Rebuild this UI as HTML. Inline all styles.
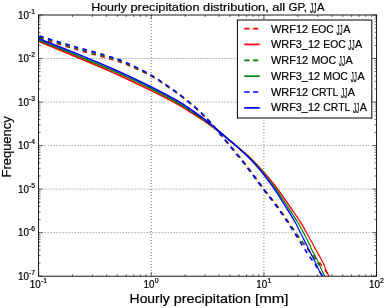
<!DOCTYPE html>
<html><head><meta charset="utf-8"><title>Hourly precipitation distribution</title>
<style>
html,body{margin:0;padding:0;background:#fff;}
body{width:387px;height:308px;overflow:hidden;position:relative;}
.t{font-family:"Liberation Sans",sans-serif;fill:#000;stroke:#000;stroke-width:0.2px;}
</style></head><body>
<svg width="387" height="308" viewBox="0 0 387 308" style="position:absolute;left:0;top:0;will-change:transform;opacity:0.999;filter:blur(0.3px)">
<rect x="0" y="0" width="387" height="308" fill="#fff"/>
<g stroke="#444" stroke-width="0.7" stroke-dasharray="1 2"><line x1="38.60" y1="58.53" x2="376.60" y2="58.53"/><line x1="38.60" y1="102.07" x2="376.60" y2="102.07"/><line x1="38.60" y1="145.60" x2="376.60" y2="145.60"/><line x1="38.60" y1="189.13" x2="376.60" y2="189.13"/><line x1="38.60" y1="232.67" x2="376.60" y2="232.67"/><line x1="151.27" y1="15.00" x2="151.27" y2="276.20"/><line x1="263.93" y1="15.00" x2="263.93" y2="276.20"/></g>
<clipPath id="c"><rect x="38.6" y="15.0" width="338.0" height="261.2"/></clipPath>
<g clip-path="url(#c)" stroke-linejoin="round">
<path d="M39.00 38.10 C45.00 39.92 62.83 45.42 75.00 49.00 C87.17 52.58 102.83 56.72 112.00 59.55 C121.17 62.38 123.40 63.17 130.00 65.97 C136.60 68.78 145.27 72.91 151.60 76.39 C157.93 79.87 162.93 83.47 168.00 86.87 C173.07 90.27 177.35 93.23 182.00 96.80 C186.65 100.37 191.43 104.28 195.90 108.28 C200.37 112.27 204.78 116.50 208.80 120.76 C212.82 125.03 215.96 129.18 220.00 133.86 C224.04 138.54 228.94 144.03 233.02 148.85 C237.09 153.67 240.76 158.11 244.45 162.80 C248.14 167.49 251.60 172.22 255.18 177.00 C258.76 181.78 262.20 186.63 265.91 191.50 C269.63 196.37 273.82 201.31 277.45 206.20 C281.07 211.09 284.24 215.88 287.68 220.85 C291.12 225.82 294.46 230.86 298.10 236.00 C301.74 241.14 305.59 246.78 309.53 251.70 C313.47 256.62 318.50 261.53 321.74 265.50 C324.99 269.47 327.79 273.83 329.00 275.50" fill="none" stroke="#ff0000" stroke-width="1.6" stroke-dasharray="4.55 4.5" stroke-dashoffset="-0.4"/>
<path transform="scale(0.600 1)" d="M65.00 41.45 C75.00 43.92 103.89 50.99 125.00 56.30 C146.11 61.61 170.83 67.68 191.67 73.30 C212.50 78.92 233.61 85.18 250.00 90.00 C266.39 94.82 280.28 99.10 290.00 102.22 C299.72 105.35 299.72 105.55 308.33 108.75 C316.94 111.95 330.00 116.47 341.67 121.40 C353.33 126.32 365.17 131.87 378.33 138.30 C391.50 144.73 407.47 152.22 420.67 160.00 C433.86 167.78 446.43 176.67 457.50 185.00 C468.57 193.33 479.72 203.67 487.08 210.00 C494.44 216.33 497.35 218.83 501.67 223.00 C505.99 227.17 509.58 231.33 513.00 235.00 C516.42 238.67 519.92 242.50 522.17 245.00 C524.42 247.50 524.64 248.00 526.50 250.00 C528.36 252.00 531.20 254.68 533.33 257.00 C535.47 259.32 537.85 262.03 539.33 263.90 C540.80 265.77 541.27 266.78 542.20 268.20 C543.13 269.62 543.91 271.07 544.93 272.40 C545.96 273.73 547.77 275.57 548.33 276.20" fill="none" stroke="#ff0000" stroke-width="1.75"/>
<path d="M39.00 37.10 C45.00 38.90 62.83 44.35 75.00 47.90 C87.17 51.45 102.83 55.53 112.00 58.40 C121.17 61.27 123.40 62.21 130.00 65.12 C136.60 68.04 145.27 72.33 151.60 75.89 C157.93 79.46 162.93 83.08 168.00 86.54 C173.07 89.99 177.35 93.00 182.00 96.60 C186.65 100.20 191.43 104.12 195.90 108.14 C200.37 112.15 204.78 116.40 208.80 120.68 C212.82 124.96 216.05 129.14 220.00 133.83 C223.95 138.53 228.53 144.02 232.53 148.85 C236.53 153.68 240.28 158.11 243.98 162.80 C247.67 167.49 251.14 172.22 254.72 177.00 C258.31 181.78 261.76 186.63 265.47 191.50 C269.19 196.37 273.39 201.31 277.02 206.20 C280.65 211.09 283.78 215.88 287.27 220.85 C290.76 225.82 294.18 230.86 297.98 236.00 C301.77 241.14 306.47 246.78 310.04 251.70 C313.61 256.62 317.85 263.20 319.41 265.50" fill="none" stroke="#008000" stroke-width="1.6" stroke-dasharray="4.55 4.5" stroke-dashoffset="-0.4"/>
<path transform="scale(0.600 1)" d="M65.00 40.25 C75.00 42.66 103.89 49.49 125.00 54.70 C146.11 59.91 170.83 65.93 191.67 71.50 C212.50 77.07 233.61 83.24 250.00 88.10 C266.39 92.96 280.28 97.43 290.00 100.63 C299.72 103.83 299.72 103.99 308.33 107.30 C316.94 110.61 330.00 115.35 341.67 120.50 C353.33 125.65 365.33 131.62 378.33 138.20 C391.33 144.78 406.92 152.20 419.67 160.00 C432.42 167.80 444.29 176.67 454.83 185.00 C465.38 193.33 475.90 203.67 482.92 210.00 C489.94 216.33 492.80 218.83 496.95 223.00 C501.11 227.17 504.62 231.33 507.83 235.00 C511.04 238.67 514.22 242.50 516.22 245.00 C518.22 247.50 518.17 248.00 519.83 250.00 C521.50 252.00 524.22 254.68 526.21 257.00 C528.19 259.32 530.31 262.03 531.75 263.90 C533.18 265.77 533.80 266.78 534.82 268.20 C535.84 269.62 536.75 271.07 537.89 272.40 C539.03 273.73 541.04 275.57 541.67 276.20" fill="none" stroke="#008000" stroke-width="1.75"/>
<path d="M39.00 35.90 C45.00 37.70 62.83 43.13 75.00 46.70 C87.17 50.27 102.83 54.37 112.00 57.30 C121.17 60.23 123.40 61.28 130.00 64.30 C136.60 67.32 145.27 71.75 151.60 75.40 C157.93 79.05 162.93 82.70 168.00 86.20 C173.07 89.70 177.35 92.77 182.00 96.40 C186.65 100.03 191.43 103.97 195.90 108.00 C200.37 112.03 204.78 116.30 208.80 120.60 C212.82 124.90 216.10 129.09 220.00 133.80 C223.90 138.51 228.27 144.02 232.20 148.85 C236.13 153.68 239.92 158.11 243.60 162.80 C247.28 167.49 250.73 172.22 254.30 177.00 C257.87 181.78 261.30 186.63 265.00 191.50 C268.70 196.37 272.88 201.31 276.50 206.20 C280.12 211.09 283.37 215.88 286.70 220.85 C290.03 225.82 293.23 230.86 296.50 236.00 C299.77 241.14 303.07 246.78 306.30 251.70 C309.53 256.62 313.23 261.53 315.85 265.50 C318.47 269.47 320.98 273.83 322.00 275.50" fill="none" stroke="#0000ff" stroke-width="1.6" stroke-dasharray="4.55 4.5" stroke-dashoffset="-0.4"/>
<path transform="scale(0.600 1)" d="M65.00 38.90 C75.00 41.25 103.89 47.85 125.00 53.00 C146.11 58.15 170.83 64.25 191.67 69.80 C212.50 75.35 233.61 81.45 250.00 86.30 C266.39 91.15 280.28 95.68 290.00 98.90 C299.72 102.12 299.72 102.15 308.33 105.60 C316.94 109.05 330.00 114.20 341.67 119.60 C353.33 125.00 365.50 131.27 378.33 138.00 C391.17 144.73 406.28 152.17 418.67 160.00 C431.06 167.83 442.51 176.67 452.67 185.00 C462.82 193.33 472.92 203.67 479.58 210.00 C486.25 216.33 488.82 218.83 492.67 223.00 C496.51 227.17 499.58 231.33 502.67 235.00 C505.75 238.67 509.14 242.50 511.17 245.00 C513.19 247.50 513.17 248.00 514.83 250.00 C516.50 252.00 519.19 254.68 521.17 257.00 C523.14 259.32 525.19 262.03 526.67 263.90 C528.14 265.77 528.89 266.78 530.00 268.20 C531.11 269.62 532.11 271.07 533.33 272.40 C534.56 273.73 536.67 275.57 537.33 276.20" fill="none" stroke="#0000ff" stroke-width="1.75"/>
</g>
<g stroke="#000" stroke-width="0.6"><line x1="38.60" y1="15.00" x2="42.60" y2="15.00"/><line x1="376.60" y1="15.00" x2="372.60" y2="15.00"/><line x1="38.60" y1="45.43" x2="40.60" y2="45.43"/><line x1="376.60" y1="45.43" x2="374.60" y2="45.43"/><line x1="38.60" y1="37.76" x2="40.60" y2="37.76"/><line x1="376.60" y1="37.76" x2="374.60" y2="37.76"/><line x1="38.60" y1="32.32" x2="40.60" y2="32.32"/><line x1="376.60" y1="32.32" x2="374.60" y2="32.32"/><line x1="38.60" y1="28.10" x2="40.60" y2="28.10"/><line x1="376.60" y1="28.10" x2="374.60" y2="28.10"/><line x1="38.60" y1="24.66" x2="40.60" y2="24.66"/><line x1="376.60" y1="24.66" x2="374.60" y2="24.66"/><line x1="38.60" y1="21.74" x2="40.60" y2="21.74"/><line x1="376.60" y1="21.74" x2="374.60" y2="21.74"/><line x1="38.60" y1="19.22" x2="40.60" y2="19.22"/><line x1="376.60" y1="19.22" x2="374.60" y2="19.22"/><line x1="38.60" y1="16.99" x2="40.60" y2="16.99"/><line x1="376.60" y1="16.99" x2="374.60" y2="16.99"/><line x1="38.60" y1="58.53" x2="42.60" y2="58.53"/><line x1="376.60" y1="58.53" x2="372.60" y2="58.53"/><line x1="38.60" y1="88.96" x2="40.60" y2="88.96"/><line x1="376.60" y1="88.96" x2="374.60" y2="88.96"/><line x1="38.60" y1="81.30" x2="40.60" y2="81.30"/><line x1="376.60" y1="81.30" x2="374.60" y2="81.30"/><line x1="38.60" y1="75.86" x2="40.60" y2="75.86"/><line x1="376.60" y1="75.86" x2="374.60" y2="75.86"/><line x1="38.60" y1="71.64" x2="40.60" y2="71.64"/><line x1="376.60" y1="71.64" x2="374.60" y2="71.64"/><line x1="38.60" y1="68.19" x2="40.60" y2="68.19"/><line x1="376.60" y1="68.19" x2="374.60" y2="68.19"/><line x1="38.60" y1="65.28" x2="40.60" y2="65.28"/><line x1="376.60" y1="65.28" x2="374.60" y2="65.28"/><line x1="38.60" y1="62.75" x2="40.60" y2="62.75"/><line x1="376.60" y1="62.75" x2="374.60" y2="62.75"/><line x1="38.60" y1="60.53" x2="40.60" y2="60.53"/><line x1="376.60" y1="60.53" x2="374.60" y2="60.53"/><line x1="38.60" y1="102.07" x2="42.60" y2="102.07"/><line x1="376.60" y1="102.07" x2="372.60" y2="102.07"/><line x1="38.60" y1="132.50" x2="40.60" y2="132.50"/><line x1="376.60" y1="132.50" x2="374.60" y2="132.50"/><line x1="38.60" y1="124.83" x2="40.60" y2="124.83"/><line x1="376.60" y1="124.83" x2="374.60" y2="124.83"/><line x1="38.60" y1="119.39" x2="40.60" y2="119.39"/><line x1="376.60" y1="119.39" x2="374.60" y2="119.39"/><line x1="38.60" y1="115.17" x2="40.60" y2="115.17"/><line x1="376.60" y1="115.17" x2="374.60" y2="115.17"/><line x1="38.60" y1="111.72" x2="40.60" y2="111.72"/><line x1="376.60" y1="111.72" x2="374.60" y2="111.72"/><line x1="38.60" y1="108.81" x2="40.60" y2="108.81"/><line x1="376.60" y1="108.81" x2="374.60" y2="108.81"/><line x1="38.60" y1="106.29" x2="40.60" y2="106.29"/><line x1="376.60" y1="106.29" x2="374.60" y2="106.29"/><line x1="38.60" y1="104.06" x2="40.60" y2="104.06"/><line x1="376.60" y1="104.06" x2="374.60" y2="104.06"/><line x1="38.60" y1="145.60" x2="42.60" y2="145.60"/><line x1="376.60" y1="145.60" x2="372.60" y2="145.60"/><line x1="38.60" y1="176.03" x2="40.60" y2="176.03"/><line x1="376.60" y1="176.03" x2="374.60" y2="176.03"/><line x1="38.60" y1="168.36" x2="40.60" y2="168.36"/><line x1="376.60" y1="168.36" x2="374.60" y2="168.36"/><line x1="38.60" y1="162.92" x2="40.60" y2="162.92"/><line x1="376.60" y1="162.92" x2="374.60" y2="162.92"/><line x1="38.60" y1="158.70" x2="40.60" y2="158.70"/><line x1="376.60" y1="158.70" x2="374.60" y2="158.70"/><line x1="38.60" y1="155.26" x2="40.60" y2="155.26"/><line x1="376.60" y1="155.26" x2="374.60" y2="155.26"/><line x1="38.60" y1="152.34" x2="40.60" y2="152.34"/><line x1="376.60" y1="152.34" x2="374.60" y2="152.34"/><line x1="38.60" y1="149.82" x2="40.60" y2="149.82"/><line x1="376.60" y1="149.82" x2="374.60" y2="149.82"/><line x1="38.60" y1="147.59" x2="40.60" y2="147.59"/><line x1="376.60" y1="147.59" x2="374.60" y2="147.59"/><line x1="38.60" y1="189.13" x2="42.60" y2="189.13"/><line x1="376.60" y1="189.13" x2="372.60" y2="189.13"/><line x1="38.60" y1="219.56" x2="40.60" y2="219.56"/><line x1="376.60" y1="219.56" x2="374.60" y2="219.56"/><line x1="38.60" y1="211.90" x2="40.60" y2="211.90"/><line x1="376.60" y1="211.90" x2="374.60" y2="211.90"/><line x1="38.60" y1="206.46" x2="40.60" y2="206.46"/><line x1="376.60" y1="206.46" x2="374.60" y2="206.46"/><line x1="38.60" y1="202.24" x2="40.60" y2="202.24"/><line x1="376.60" y1="202.24" x2="374.60" y2="202.24"/><line x1="38.60" y1="198.79" x2="40.60" y2="198.79"/><line x1="376.60" y1="198.79" x2="374.60" y2="198.79"/><line x1="38.60" y1="195.88" x2="40.60" y2="195.88"/><line x1="376.60" y1="195.88" x2="374.60" y2="195.88"/><line x1="38.60" y1="193.35" x2="40.60" y2="193.35"/><line x1="376.60" y1="193.35" x2="374.60" y2="193.35"/><line x1="38.60" y1="191.13" x2="40.60" y2="191.13"/><line x1="376.60" y1="191.13" x2="374.60" y2="191.13"/><line x1="38.60" y1="232.67" x2="42.60" y2="232.67"/><line x1="376.60" y1="232.67" x2="372.60" y2="232.67"/><line x1="38.60" y1="263.10" x2="40.60" y2="263.10"/><line x1="376.60" y1="263.10" x2="374.60" y2="263.10"/><line x1="38.60" y1="255.43" x2="40.60" y2="255.43"/><line x1="376.60" y1="255.43" x2="374.60" y2="255.43"/><line x1="38.60" y1="249.99" x2="40.60" y2="249.99"/><line x1="376.60" y1="249.99" x2="374.60" y2="249.99"/><line x1="38.60" y1="245.77" x2="40.60" y2="245.77"/><line x1="376.60" y1="245.77" x2="374.60" y2="245.77"/><line x1="38.60" y1="242.32" x2="40.60" y2="242.32"/><line x1="376.60" y1="242.32" x2="374.60" y2="242.32"/><line x1="38.60" y1="239.41" x2="40.60" y2="239.41"/><line x1="376.60" y1="239.41" x2="374.60" y2="239.41"/><line x1="38.60" y1="236.89" x2="40.60" y2="236.89"/><line x1="376.60" y1="236.89" x2="374.60" y2="236.89"/><line x1="38.60" y1="234.66" x2="40.60" y2="234.66"/><line x1="376.60" y1="234.66" x2="374.60" y2="234.66"/><line x1="38.60" y1="276.20" x2="42.60" y2="276.20"/><line x1="376.60" y1="276.20" x2="372.60" y2="276.20"/><line x1="38.60" y1="15.00" x2="38.60" y2="19.00"/><line x1="38.60" y1="276.20" x2="38.60" y2="272.20"/><line x1="72.52" y1="15.00" x2="72.52" y2="17.00"/><line x1="72.52" y1="276.20" x2="72.52" y2="274.20"/><line x1="92.36" y1="15.00" x2="92.36" y2="17.00"/><line x1="92.36" y1="276.20" x2="92.36" y2="274.20"/><line x1="106.43" y1="15.00" x2="106.43" y2="17.00"/><line x1="106.43" y1="276.20" x2="106.43" y2="274.20"/><line x1="117.35" y1="15.00" x2="117.35" y2="17.00"/><line x1="117.35" y1="276.20" x2="117.35" y2="274.20"/><line x1="126.27" y1="15.00" x2="126.27" y2="17.00"/><line x1="126.27" y1="276.20" x2="126.27" y2="274.20"/><line x1="133.81" y1="15.00" x2="133.81" y2="17.00"/><line x1="133.81" y1="276.20" x2="133.81" y2="274.20"/><line x1="140.35" y1="15.00" x2="140.35" y2="17.00"/><line x1="140.35" y1="276.20" x2="140.35" y2="274.20"/><line x1="146.11" y1="15.00" x2="146.11" y2="17.00"/><line x1="146.11" y1="276.20" x2="146.11" y2="274.20"/><line x1="151.27" y1="15.00" x2="151.27" y2="19.00"/><line x1="151.27" y1="276.20" x2="151.27" y2="272.20"/><line x1="185.18" y1="15.00" x2="185.18" y2="17.00"/><line x1="185.18" y1="276.20" x2="185.18" y2="274.20"/><line x1="205.02" y1="15.00" x2="205.02" y2="17.00"/><line x1="205.02" y1="276.20" x2="205.02" y2="274.20"/><line x1="219.10" y1="15.00" x2="219.10" y2="17.00"/><line x1="219.10" y1="276.20" x2="219.10" y2="274.20"/><line x1="230.02" y1="15.00" x2="230.02" y2="17.00"/><line x1="230.02" y1="276.20" x2="230.02" y2="274.20"/><line x1="238.94" y1="15.00" x2="238.94" y2="17.00"/><line x1="238.94" y1="276.20" x2="238.94" y2="274.20"/><line x1="246.48" y1="15.00" x2="246.48" y2="17.00"/><line x1="246.48" y1="276.20" x2="246.48" y2="274.20"/><line x1="253.01" y1="15.00" x2="253.01" y2="17.00"/><line x1="253.01" y1="276.20" x2="253.01" y2="274.20"/><line x1="258.78" y1="15.00" x2="258.78" y2="17.00"/><line x1="258.78" y1="276.20" x2="258.78" y2="274.20"/><line x1="263.93" y1="15.00" x2="263.93" y2="19.00"/><line x1="263.93" y1="276.20" x2="263.93" y2="272.20"/><line x1="297.85" y1="15.00" x2="297.85" y2="17.00"/><line x1="297.85" y1="276.20" x2="297.85" y2="274.20"/><line x1="317.69" y1="15.00" x2="317.69" y2="17.00"/><line x1="317.69" y1="276.20" x2="317.69" y2="274.20"/><line x1="331.77" y1="15.00" x2="331.77" y2="17.00"/><line x1="331.77" y1="276.20" x2="331.77" y2="274.20"/><line x1="342.68" y1="15.00" x2="342.68" y2="17.00"/><line x1="342.68" y1="276.20" x2="342.68" y2="274.20"/><line x1="351.61" y1="15.00" x2="351.61" y2="17.00"/><line x1="351.61" y1="276.20" x2="351.61" y2="274.20"/><line x1="359.15" y1="15.00" x2="359.15" y2="17.00"/><line x1="359.15" y1="276.20" x2="359.15" y2="274.20"/><line x1="365.68" y1="15.00" x2="365.68" y2="17.00"/><line x1="365.68" y1="276.20" x2="365.68" y2="274.20"/><line x1="371.44" y1="15.00" x2="371.44" y2="17.00"/><line x1="371.44" y1="276.20" x2="371.44" y2="274.20"/><line x1="376.60" y1="15.00" x2="376.60" y2="19.00"/><line x1="376.60" y1="276.20" x2="376.60" y2="272.20"/></g>
<rect x="38.6" y="15.0" width="338.0" height="261.2" fill="none" stroke="#000" stroke-width="0.9"/>
<rect x="237.4" y="20.0" width="134.4" height="98.0" fill="#fff" stroke="#000" stroke-width="1"/>
<line x1="244.2" y1="28.6" x2="259.7" y2="28.6" stroke="#ff0000" stroke-width="1.7" stroke-dasharray="5.2 3.6"/>
<g transform="translate(271.00 32.60)"><text x="0.00" y="0" font-size="11.13" textLength="37.08" lengthAdjust="spacingAndGlyphs" class="t">WRF12</text><text x="40.42" y="0" font-size="11.13" textLength="22.23" lengthAdjust="spacingAndGlyphs" class="t">EOC</text><text x="65.41" y="2.10" font-size="13.96" textLength="6.19" lengthAdjust="spacingAndGlyphs" class="t">JJ</text><text x="72.18" y="0" font-size="11.13" textLength="7.18" lengthAdjust="spacingAndGlyphs" class="t">A</text></g>
<line x1="244.2" y1="44.4" x2="259.7" y2="44.4" stroke="#ff0000" stroke-width="1.7"/>
<g transform="translate(271.00 48.35)"><text x="0.00" y="0" font-size="11.13" textLength="49.01" lengthAdjust="spacingAndGlyphs" class="t">WRF3_12</text><text x="52.35" y="0" font-size="11.13" textLength="22.23" lengthAdjust="spacingAndGlyphs" class="t">EOC</text><text x="77.34" y="2.10" font-size="13.96" textLength="6.19" lengthAdjust="spacingAndGlyphs" class="t">JJ</text><text x="84.11" y="0" font-size="11.13" textLength="7.18" lengthAdjust="spacingAndGlyphs" class="t">A</text></g>
<line x1="244.2" y1="60.3" x2="259.7" y2="60.3" stroke="#008000" stroke-width="1.7" stroke-dasharray="5.2 3.6"/>
<g transform="translate(271.00 64.10)"><text x="0.00" y="0" font-size="11.13" textLength="37.08" lengthAdjust="spacingAndGlyphs" class="t">WRF12</text><text x="40.42" y="0" font-size="11.13" textLength="24.66" lengthAdjust="spacingAndGlyphs" class="t">MOC</text><text x="67.84" y="2.10" font-size="13.96" textLength="6.19" lengthAdjust="spacingAndGlyphs" class="t">JJ</text><text x="74.60" y="0" font-size="11.13" textLength="7.18" lengthAdjust="spacingAndGlyphs" class="t">A</text></g>
<line x1="244.2" y1="76.2" x2="259.7" y2="76.2" stroke="#008000" stroke-width="1.7"/>
<g transform="translate(271.00 79.85)"><text x="0.00" y="0" font-size="11.13" textLength="49.01" lengthAdjust="spacingAndGlyphs" class="t">WRF3_12</text><text x="52.35" y="0" font-size="11.13" textLength="24.66" lengthAdjust="spacingAndGlyphs" class="t">MOC</text><text x="79.77" y="2.10" font-size="13.96" textLength="6.19" lengthAdjust="spacingAndGlyphs" class="t">JJ</text><text x="86.53" y="0" font-size="11.13" textLength="7.18" lengthAdjust="spacingAndGlyphs" class="t">A</text></g>
<line x1="244.2" y1="92.0" x2="259.7" y2="92.0" stroke="#0000ff" stroke-width="1.7" stroke-dasharray="5.2 3.6"/>
<g transform="translate(271.00 95.60)"><text x="0.00" y="0" font-size="11.13" textLength="37.08" lengthAdjust="spacingAndGlyphs" class="t">WRF12</text><text x="40.42" y="0" font-size="11.13" textLength="26.89" lengthAdjust="spacingAndGlyphs" class="t">CRTL</text><text x="70.07" y="2.10" font-size="13.96" textLength="6.19" lengthAdjust="spacingAndGlyphs" class="t">JJ</text><text x="76.84" y="0" font-size="11.13" textLength="7.18" lengthAdjust="spacingAndGlyphs" class="t">A</text></g>
<line x1="244.2" y1="107.9" x2="259.7" y2="107.9" stroke="#0000ff" stroke-width="1.7"/>
<g transform="translate(271.00 111.35)"><text x="0.00" y="0" font-size="11.13" textLength="49.01" lengthAdjust="spacingAndGlyphs" class="t">WRF3_12</text><text x="52.35" y="0" font-size="11.13" textLength="26.89" lengthAdjust="spacingAndGlyphs" class="t">CRTL</text><text x="82.00" y="2.10" font-size="13.96" textLength="6.19" lengthAdjust="spacingAndGlyphs" class="t">JJ</text><text x="88.77" y="0" font-size="11.13" textLength="7.18" lengthAdjust="spacingAndGlyphs" class="t">A</text></g>
<g transform="translate(91.20 10.80)"><text x="0.00" y="0" font-size="11.37" textLength="35.83" lengthAdjust="spacingAndGlyphs" class="t">Hourly</text><text x="39.31" y="0" font-size="11.37" textLength="69.10" lengthAdjust="spacingAndGlyphs" class="t">precipitation</text><text x="111.88" y="0" font-size="11.37" textLength="65.76" lengthAdjust="spacingAndGlyphs" class="t">distribution,</text><text x="181.11" y="0" font-size="11.37" textLength="12.77" lengthAdjust="spacingAndGlyphs" class="t">all</text><text x="197.36" y="0" font-size="11.37" textLength="18.54" lengthAdjust="spacingAndGlyphs" class="t">GP,</text><text x="218.77" y="2.19" font-size="14.54" textLength="6.45" lengthAdjust="spacingAndGlyphs" class="t">JJ</text><text x="225.82" y="0" font-size="11.37" textLength="7.48" lengthAdjust="spacingAndGlyphs" class="t">A</text></g>
<g transform="translate(129.60 303.00)"><text x="0.00" y="0" font-size="12.74" textLength="40.16" lengthAdjust="spacingAndGlyphs" class="t">Hourly</text><text x="44.05" y="0" font-size="12.74" textLength="77.44" lengthAdjust="spacingAndGlyphs" class="t">precipitation</text><text x="125.39" y="0" font-size="12.74" textLength="33.42" lengthAdjust="spacingAndGlyphs" class="t">[mm]</text></g>
<g transform="translate(11.40 146.90) rotate(-90)"><text x="-30.64" y="0" font-size="12.47" textLength="61.29" lengthAdjust="spacingAndGlyphs" class="t">Frequency</text></g>
<g transform="translate(18.00 18.60)"><text x="0.00" y="0" font-size="10.06" textLength="10.94" lengthAdjust="spacingAndGlyphs" class="t">10</text></g>
<g transform="translate(29.00 13.50)"><text x="0.00" y="0" font-size="6.59" textLength="6.08" lengthAdjust="spacingAndGlyphs" class="t">-1</text></g>
<g transform="translate(18.00 62.13)"><text x="0.00" y="0" font-size="10.06" textLength="10.94" lengthAdjust="spacingAndGlyphs" class="t">10</text></g>
<g transform="translate(29.00 57.03)"><text x="0.00" y="0" font-size="6.59" textLength="6.08" lengthAdjust="spacingAndGlyphs" class="t">-2</text></g>
<g transform="translate(18.00 105.67)"><text x="0.00" y="0" font-size="10.06" textLength="10.94" lengthAdjust="spacingAndGlyphs" class="t">10</text></g>
<g transform="translate(29.00 100.57)"><text x="0.00" y="0" font-size="6.59" textLength="6.08" lengthAdjust="spacingAndGlyphs" class="t">-3</text></g>
<g transform="translate(18.00 149.20)"><text x="0.00" y="0" font-size="10.06" textLength="10.94" lengthAdjust="spacingAndGlyphs" class="t">10</text></g>
<g transform="translate(29.00 144.10)"><text x="0.00" y="0" font-size="6.59" textLength="6.08" lengthAdjust="spacingAndGlyphs" class="t">-4</text></g>
<g transform="translate(18.00 192.73)"><text x="0.00" y="0" font-size="10.06" textLength="10.94" lengthAdjust="spacingAndGlyphs" class="t">10</text></g>
<g transform="translate(29.00 187.63)"><text x="0.00" y="0" font-size="6.59" textLength="6.08" lengthAdjust="spacingAndGlyphs" class="t">-5</text></g>
<g transform="translate(18.00 236.27)"><text x="0.00" y="0" font-size="10.06" textLength="10.94" lengthAdjust="spacingAndGlyphs" class="t">10</text></g>
<g transform="translate(29.00 231.17)"><text x="0.00" y="0" font-size="6.59" textLength="6.08" lengthAdjust="spacingAndGlyphs" class="t">-6</text></g>
<g transform="translate(18.00 279.80)"><text x="0.00" y="0" font-size="10.06" textLength="10.94" lengthAdjust="spacingAndGlyphs" class="t">10</text></g>
<g transform="translate(29.00 274.70)"><text x="0.00" y="0" font-size="6.59" textLength="6.08" lengthAdjust="spacingAndGlyphs" class="t">-7</text></g>
<g transform="translate(29.85 288.20)"><text x="0.00" y="0" font-size="10.06" textLength="10.94" lengthAdjust="spacingAndGlyphs" class="t">10</text></g>
<g transform="translate(40.95 283.10)"><text x="0.00" y="0" font-size="6.59" textLength="6.08" lengthAdjust="spacingAndGlyphs" class="t">-1</text></g>
<g transform="translate(143.62 288.20)"><text x="0.00" y="0" font-size="10.06" textLength="10.94" lengthAdjust="spacingAndGlyphs" class="t">10</text></g>
<g transform="translate(154.72 283.10)"><text x="0.00" y="0" font-size="6.59" textLength="3.88" lengthAdjust="spacingAndGlyphs" class="t">0</text></g>
<g transform="translate(256.28 288.20)"><text x="0.00" y="0" font-size="10.06" textLength="10.94" lengthAdjust="spacingAndGlyphs" class="t">10</text></g>
<g transform="translate(267.38 283.10)"><text x="0.00" y="0" font-size="6.59" textLength="3.88" lengthAdjust="spacingAndGlyphs" class="t">1</text></g>
<g transform="translate(368.95 288.20)"><text x="0.00" y="0" font-size="10.06" textLength="10.94" lengthAdjust="spacingAndGlyphs" class="t">10</text></g>
<g transform="translate(380.05 283.10)"><text x="0.00" y="0" font-size="6.59" textLength="3.88" lengthAdjust="spacingAndGlyphs" class="t">2</text></g>
</svg>
</body></html>
